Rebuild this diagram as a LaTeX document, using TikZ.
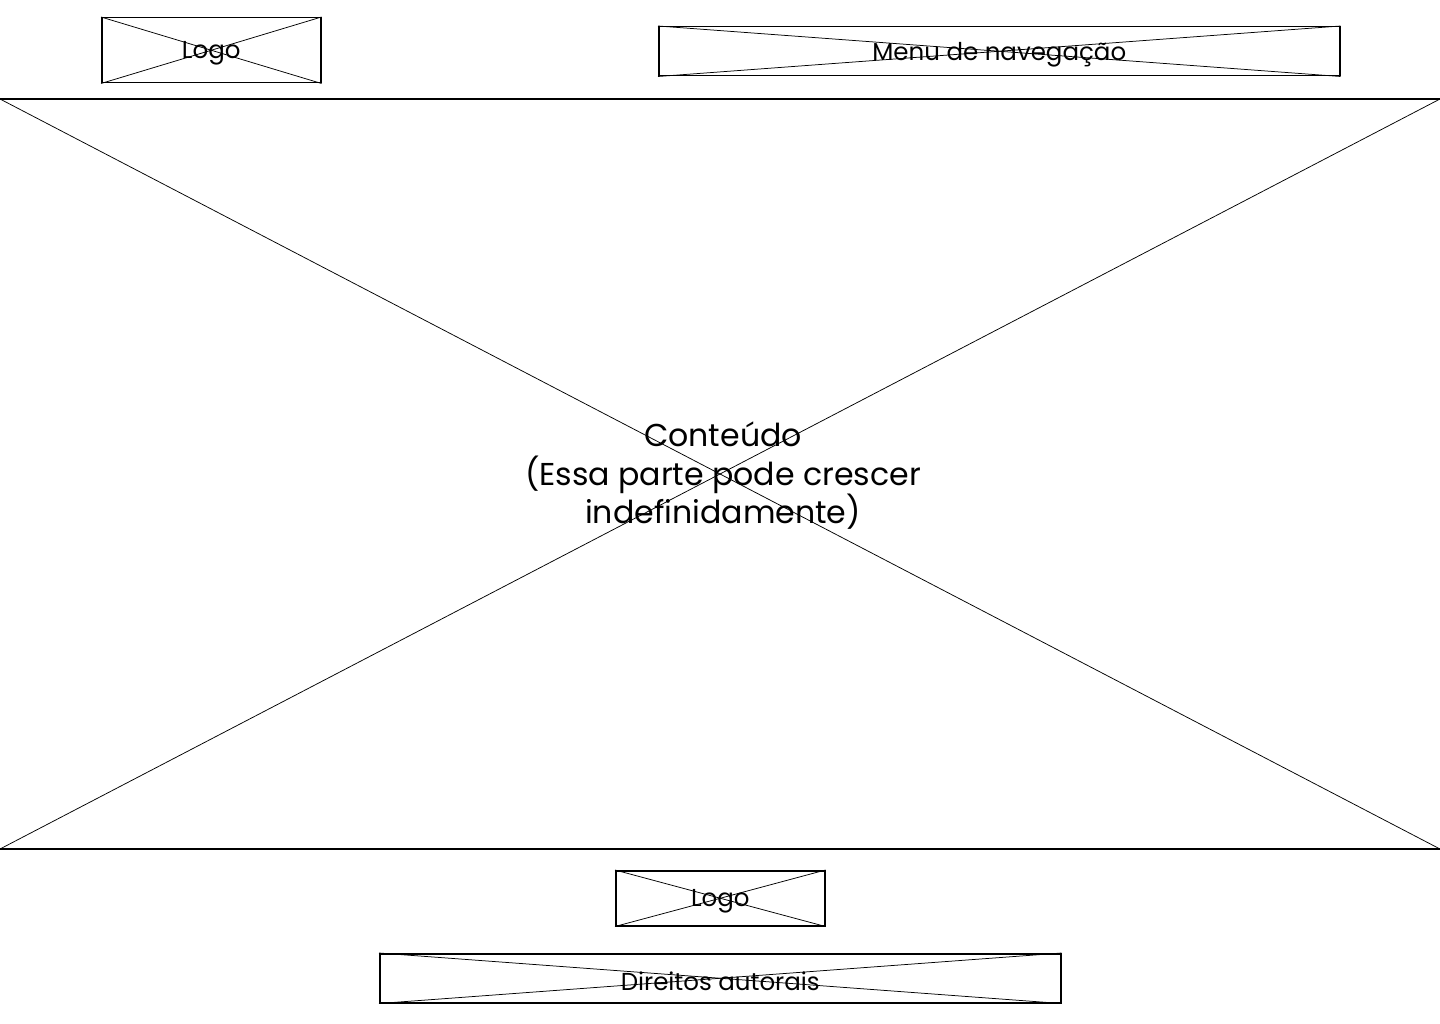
\documentclass[tikz,border=0pt]{standalone}
\usepackage{fontspec}
\setmainfont{Poppins}
\begin{document}
\begin{tikzpicture}[x=1pt,y=-1pt,
  frame/.style={draw=black,line width=1.5pt,rectangle,inner sep=0pt,fill=white},
  cross/.style={draw=black,line width=0.75pt},
  lbl/.style={inner sep=0pt,align=center,text=black},
]
\useasboundingbox[fill=white] (0,0) rectangle (1440,1024);

% placeholder block with crossing diagonals
\newcommand{\xbox}[7]{% name, x1, y1, x2, y2, font size, text
  \node[frame,minimum width={#4-#2},minimum height={#5-#3},anchor=north west] (#1) at (#2,#3) {};
  \draw[cross] (#1.north west) -- (#1.south east);
  \draw[cross] (#1.south west) -- (#1.north east);
  \node[lbl,font=\fontsize{#6}{#6}\selectfont] (#1-t) at ([yshift=-3.5pt]#1.center) {#7};
}

% header
\xbox{logoTop}{101}{17}{320}{82}{24.5}{Logo}
\xbox{menu}{658}{26}{1339}{75}{24.5}{Menu de navegação}

% content area
\coordinate (cTL) at (0,99);
\coordinate (cTR) at (1440,99);
\coordinate (cBL) at (0,849);
\coordinate (cBR) at (1440,849);
\draw[cross] (cTL) -- (cBR);
\draw[cross] (cBL) -- (cTR);
\draw[line width=1.5pt] (cTL) -- (cTR);
\draw[line width=1.5pt] (cBL) -- (cBR);
\node[lbl,font=\fontsize{31.6}{38.5}\selectfont] (content) at (723,476)
  {Conteúdo\\(Essa parte pode crescer\\indefinidamente)};

% footer
\xbox{logoBot}{615}{870}{824}{925}{24.5}{Logo}
\xbox{rights}{379}{953}{1060}{1002}{24.5}{Direitos autorais}
\end{tikzpicture}
\end{document}
